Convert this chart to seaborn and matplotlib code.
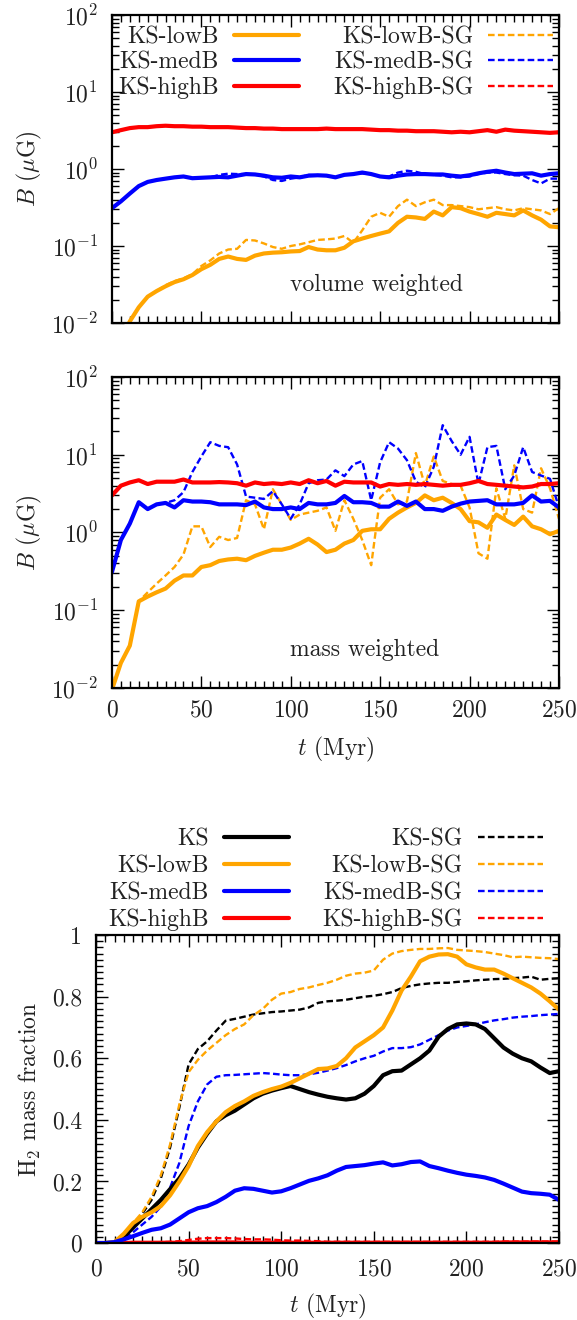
import numpy as np
import seaborn as sns
import matplotlib
matplotlib.use('Agg')
import matplotlib.pyplot as plt
from matplotlib.lines import Line2D
from matplotlib.ticker import LogLocator, NullFormatter, MultipleLocator, FixedLocator

# =========================
#  DATA (5 Myr steps)
# =========================

t_myr = np.arange(0, 251, 5)

# volume weighted B (muG)
vol_lowB = [0.004, 0.006, 0.0105, 0.016, 0.022, 0.026, 0.030, 0.034, 0.037, 0.042,
            0.050, 0.057, 0.068, 0.073, 0.068, 0.066, 0.075, 0.080, 0.082, 0.083,
            0.085, 0.086, 0.097, 0.090, 0.088, 0.088, 0.095, 0.115, 0.125, 0.135,
            0.145, 0.155, 0.200, 0.240, 0.235, 0.225, 0.280, 0.250, 0.320, 0.310,
            0.280, 0.260, 0.240, 0.270, 0.260, 0.250, 0.290, 0.250, 0.220, 0.180, 0.175]
vol_lowB_SG = [0.004, 0.006, 0.0105, 0.016, 0.022, 0.026, 0.031, 0.035, 0.038, 0.043,
               0.055, 0.065, 0.080, 0.090, 0.092, 0.120, 0.118, 0.108, 0.097, 0.092,
               0.100, 0.105, 0.112, 0.120, 0.122, 0.125, 0.135, 0.110, 0.160, 0.240,
               0.270, 0.240, 0.330, 0.400, 0.330, 0.370, 0.400, 0.340, 0.340, 0.330,
               0.320, 0.300, 0.310, 0.320, 0.300, 0.290, 0.310, 0.300, 0.290, 0.260, 0.310]
vol_medB = [0.31, 0.38, 0.48, 0.60, 0.68, 0.72, 0.75, 0.78, 0.80, 0.76,
            0.77, 0.78, 0.79, 0.78, 0.82, 0.86, 0.85, 0.82, 0.78, 0.77,
            0.80, 0.78, 0.82, 0.83, 0.82, 0.78, 0.84, 0.86, 0.90, 0.86,
            0.80, 0.78, 0.82, 0.85, 0.86, 0.86, 0.85, 0.85, 0.82, 0.80,
            0.83, 0.88, 0.92, 0.95, 0.90, 0.86, 0.87, 0.88, 0.82, 0.86, 0.88]
vol_medB_SG = [0.31, 0.38, 0.48, 0.60, 0.68, 0.72, 0.75, 0.78, 0.80, 0.76,
               0.77, 0.78, 0.84, 0.87, 0.86, 0.86, 0.85, 0.80, 0.72, 0.70,
               0.75, 0.78, 0.84, 0.83, 0.82, 0.78, 0.84, 0.86, 0.88, 0.86,
               0.80, 0.80, 0.90, 0.95, 0.92, 0.86, 0.84, 0.82, 0.78, 0.78,
               0.80, 0.86, 0.90, 0.90, 0.86, 0.83, 0.82, 0.72, 0.65, 0.75, 0.75]
vol_highB = [3.0, 3.2, 3.4, 3.5, 3.5, 3.6, 3.65, 3.6, 3.6, 3.55,
             3.55, 3.5, 3.5, 3.5, 3.45, 3.4, 3.4, 3.35, 3.35, 3.3,
             3.3, 3.3, 3.3, 3.3, 3.35, 3.3, 3.3, 3.3, 3.3, 3.25,
             3.2, 3.2, 3.15, 3.15, 3.1, 3.1, 3.1, 3.05, 3.0, 3.05,
             3.0, 3.1, 3.2, 3.05, 3.25, 3.15, 3.1, 3.05, 3.0, 2.95, 3.0]
vol_highB_SG = [3.0, 3.2, 3.4, 3.5, 3.5, 3.6, 3.65, 3.6, 3.6, 3.55,
                3.55, 3.5, 3.5, 3.5, 3.45, 3.4, 3.4, 3.35, 3.35, 3.3,
                3.3, 3.3, 3.3, 3.3, 3.35, 3.3, 3.3, 3.3, 3.3, 3.25,
                3.2, 3.2, 3.15, 3.15, 3.1, 3.1, 3.1, 3.05, 3.0, 3.05,
                3.0, 3.1, 3.2, 3.05, 3.25, 3.15, 3.1, 3.05, 3.0, 2.95, 3.05]

# mass weighted B (muG)
mass_lowB = [0.0095, 0.021, 0.035, 0.13, 0.15, 0.17, 0.19, 0.24, 0.28, 0.28,
             0.36, 0.38, 0.43, 0.45, 0.46, 0.44, 0.50, 0.55, 0.60, 0.60,
             0.64, 0.72, 0.83, 0.70, 0.56, 0.60, 0.72, 0.80, 1.05, 1.10,
             1.10, 1.50, 1.80, 2.10, 2.40, 3.00, 2.60, 2.80, 2.40, 2.00,
             1.40, 1.35, 1.15, 1.70, 1.45, 1.25, 1.60, 1.20, 1.10, 0.95, 1.05]
mass_lowB_SG = [0.0095, 0.021, 0.035, 0.13, 0.17, 0.22, 0.28, 0.36, 0.52, 1.2,
                1.2, 0.65, 0.88, 0.80, 0.85, 2.6, 2.3, 1.1, 3.6, 2.3,
                1.45, 1.7, 1.8, 1.9, 2.1, 1.05, 2.6, 1.5, 0.8, 0.38,
                2.8, 3.6, 2.3, 2.5, 10.5, 4.0, 9.5, 4.6, 4.2, 4.0,
                2.1, 0.54, 0.46, 3.7, 1.5, 7.3, 2.0, 1.8, 6.7, 3.7, 1.5]
mass_medB = [0.31, 0.8, 1.3, 2.45, 2.0, 2.3, 2.4, 2.1, 2.6, 2.5,
             2.5, 2.45, 2.3, 2.3, 2.3, 2.25, 2.5, 2.1, 2.0, 2.0,
             2.1, 2.0, 2.4, 2.3, 2.3, 2.4, 2.95, 2.45, 2.45, 2.4,
             2.15, 2.15, 2.5, 2.2, 2.5, 2.0, 2.0, 1.9, 2.15, 2.35,
             2.5, 2.55, 2.6, 2.3, 2.3, 2.3, 2.4, 3.0, 2.5, 2.55, 2.1]
mass_medB_SG = [0.31, 0.8, 1.3, 2.45, 2.0, 2.3, 2.4, 2.6, 3.3, 6.0,
                9.5, 14.5, 13.0, 12.5, 7.5, 2.9, 2.8, 2.7, 3.4, 2.3,
                1.5, 2.3, 4.3, 4.7, 4.8, 6.3, 5.3, 7.5, 8.3, 2.6,
                8.0, 14.5, 12.0, 8.5, 4.5, 3.8, 7.0, 24.0, 15.0, 10.0,
                17.0, 4.2, 12.5, 13.0, 3.6, 5.4, 12.5, 6.0, 5.4, 4.9, 2.1]
mass_highB = [3.0, 4.0, 4.4, 4.7, 4.2, 4.5, 4.5, 4.5, 4.8, 4.4,
              4.4, 4.4, 4.45, 4.4, 4.3, 4.0, 4.4, 4.2, 4.3, 4.2,
              4.4, 4.2, 4.7, 4.3, 4.6, 4.0, 4.5, 4.4, 4.4, 4.4,
              3.9, 4.2, 4.1, 4.2, 4.1, 4.2, 4.1, 4.0, 4.1, 4.1,
              4.3, 4.6, 4.2, 4.1, 4.0, 3.9, 3.8, 3.9, 4.2, 4.2, 4.3]
mass_highB_SG = [3.0, 4.0, 4.4, 4.7, 4.2, 4.5, 4.5, 4.5, 4.8, 4.4,
                 4.4, 4.4, 4.45, 4.4, 4.3, 4.0, 4.4, 4.2, 4.3, 4.2,
                 4.4, 4.2, 4.7, 4.3, 4.6, 4.0, 4.5, 4.4, 4.4, 4.4,
                 3.9, 4.2, 4.1, 4.2, 4.1, 4.2, 4.1, 4.0, 4.1, 4.1,
                 4.3, 4.6, 4.2, 4.1, 4.0, 3.9, 3.8, 3.9, 4.2, 4.2, 4.3]

# H2 mass fraction
h2_KS = [0, 0, 0.002, 0.02, 0.05, 0.08, 0.11, 0.14, 0.175, 0.21,
         0.255, 0.31, 0.355, 0.395, 0.415, 0.43, 0.45, 0.47, 0.485, 0.495,
         0.503, 0.51, 0.50, 0.49, 0.482, 0.475, 0.47, 0.466, 0.47, 0.485,
         0.51, 0.545, 0.558, 0.56, 0.58, 0.60, 0.625, 0.67, 0.695, 0.71,
         0.713, 0.71, 0.695, 0.665, 0.635, 0.615, 0.60, 0.59, 0.57, 0.552, 0.558]
h2_KS_SG = [0, 0, 0.003, 0.025, 0.06, 0.095, 0.14, 0.21, 0.31, 0.44,
            0.58, 0.63, 0.655, 0.69, 0.722, 0.728, 0.735, 0.742, 0.746, 0.75,
            0.752, 0.755, 0.758, 0.765, 0.78, 0.785, 0.787, 0.79, 0.795, 0.80,
            0.803, 0.808, 0.815, 0.828, 0.835, 0.84, 0.843, 0.845, 0.845, 0.848,
            0.85, 0.853, 0.855, 0.857, 0.858, 0.86, 0.862, 0.865, 0.855, 0.858, 0.86]
h2_lowB = [0, 0, 0.003, 0.03, 0.065, 0.085, 0.10, 0.12, 0.155, 0.20,
           0.25, 0.315, 0.36, 0.395, 0.425, 0.445, 0.46, 0.478, 0.49, 0.50,
           0.508, 0.52, 0.535, 0.55, 0.565, 0.567, 0.575, 0.60, 0.635, 0.655,
           0.675, 0.70, 0.755, 0.82, 0.865, 0.915, 0.93, 0.937, 0.938, 0.93,
           0.905, 0.895, 0.888, 0.888, 0.875, 0.86, 0.845, 0.83, 0.81, 0.785, 0.758]
h2_lowB_SG = [0, 0, 0.004, 0.03, 0.065, 0.10, 0.15, 0.22, 0.32, 0.45,
              0.555, 0.595, 0.625, 0.65, 0.675, 0.695, 0.71, 0.74, 0.76, 0.79,
              0.81, 0.815, 0.825, 0.83, 0.838, 0.845, 0.855, 0.868, 0.875, 0.878,
              0.885, 0.92, 0.94, 0.948, 0.952, 0.955, 0.955, 0.957, 0.958, 0.952,
              0.95, 0.948, 0.945, 0.94, 0.935, 0.928, 0.93, 0.928, 0.926, 0.925, 0.922]
h2_medB = [0, 0, 0.003, 0.012, 0.022, 0.033, 0.043, 0.048, 0.06, 0.08,
           0.10, 0.113, 0.12, 0.133, 0.15, 0.17, 0.178, 0.176, 0.17, 0.164,
           0.168, 0.178, 0.19, 0.202, 0.21, 0.22, 0.235, 0.247, 0.25, 0.253,
           0.258, 0.262, 0.252, 0.256, 0.263, 0.265, 0.25, 0.243, 0.235, 0.228,
           0.222, 0.218, 0.213, 0.205, 0.193, 0.18, 0.167, 0.162, 0.16, 0.157, 0.14]
h2_medB_SG = [0, 0, 0.003, 0.015, 0.035, 0.06, 0.085, 0.118, 0.18, 0.26,
              0.38, 0.46, 0.515, 0.54, 0.545, 0.546, 0.548, 0.55, 0.552, 0.55,
              0.547, 0.545, 0.545, 0.548, 0.553, 0.56, 0.568, 0.578, 0.59, 0.60,
              0.608, 0.622, 0.633, 0.633, 0.636, 0.645, 0.66, 0.675, 0.69, 0.70,
              0.705, 0.71, 0.717, 0.723, 0.727, 0.732, 0.735, 0.737, 0.74, 0.742, 0.744]
h2_highB = [0, 0, 0, 0, 0.001, 0.001, 0.001, 0.001, 0.001, 0.001,
            0.001, 0.002, 0.002, 0.002, 0.002, 0.002, 0.001, 0.001, 0.001, 0.001,
            0.001, 0.001, 0.001, 0.001, 0.001, 0.001, 0.001, 0.001, 0.001, 0.001,
            0.001, 0.001, 0.001, 0.001, 0.001, 0.001, 0.001, 0.001, 0.001, 0.001,
            0.001, 0.001, 0.001, 0.001, 0.002, 0.002, 0.002, 0.002, 0.002, 0.002, 0.002]
h2_highB_SG = [0, 0, 0, 0, 0.001, 0.001, 0.002, 0.003, 0.004, 0.006,
               0.01, 0.014, 0.016, 0.016, 0.016, 0.015, 0.013, 0.012, 0.012, 0.011,
               0.009, 0.008, 0.008, 0.007, 0.006, 0.004, 0.004, 0.004, 0.004, 0.004,
               0.004, 0.004, 0.004, 0.004, 0.004, 0.004, 0.004, 0.004, 0.004, 0.004,
               0.004, 0.004, 0.004, 0.004, 0.005, 0.005, 0.005, 0.005, 0.005, 0.005, 0.005]

COLORS = {'KS': 'black', 'lowB': '#FFA500', 'medB': '#0000FF', 'highB': '#FF0000'}
SOLID_LW = 3.0
DASH_LW = 1.7
DASH = (0, (2.8, 1.4))
FS = 17

# =========================
#  STYLE
# =========================

sns.set_theme(style='ticks')
plt.rcParams['font.family'] = ['cmr10', 'DejaVu Serif']
plt.rcParams['mathtext.fontset'] = 'cm'
plt.rcParams['axes.formatter.use_mathtext'] = True
plt.rcParams['axes.unicode_minus'] = True
plt.rcParams['text.color'] = '#222222'
plt.rcParams['axes.labelcolor'] = '#222222'
plt.rcParams['xtick.color'] = 'black'
plt.rcParams['ytick.color'] = 'black'
plt.rcParams['xtick.labelcolor'] = '#222222'
plt.rcParams['ytick.labelcolor'] = '#222222'


def style_axes(ax):
    for sp in ax.spines.values():
        sp.set_linewidth(1.6)
        sp.set_color('black')
    ax.tick_params(which='both', direction='in', top=True, right=True,
                   width=1.0, labelsize=FS)
    ax.tick_params(which='major', length=8.5)
    ax.tick_params(which='minor', length=5)
    ax.tick_params(axis='x', which='both', pad=8)
    ax.tick_params(axis='y', which='both', pad=10)
    ax.set_xlim(0, 250)
    ax.xaxis.set_major_locator(MultipleLocator(50))
    ax.xaxis.set_minor_locator(MultipleLocator(5))


def style_log(ax):
    ax.set_yscale('log')
    ax.set_ylim(1e-2, 1e2)
    ax.yaxis.set_major_locator(LogLocator(base=10, numticks=10))
    ax.yaxis.set_minor_locator(LogLocator(base=10, subs=np.arange(2, 10), numticks=100))
    ax.yaxis.set_minor_formatter(NullFormatter())


def draw(ax, y, key, dashed):
    if dashed:
        sns.lineplot(x=t_myr, y=y, ax=ax, color=COLORS[key], lw=DASH_LW,
                     ls=DASH, legend=False)
    else:
        sns.lineplot(x=t_myr, y=y, ax=ax, color=COLORS[key], lw=SOLID_LW,
                     legend=False)


def handle(key, dashed):
    if dashed:
        return Line2D([], [], color=COLORS[key], lw=DASH_LW, ls=DASH)
    return Line2D([], [], color=COLORS[key], lw=SOLID_LW)


LEG_KW = dict(ncol=2, markerfirst=False, frameon=False, loc='upper right',
              borderpad=0, borderaxespad=0, handlelength=2.75,
              handletextpad=0.64, columnspacing=1.44, fontsize=FS)

fig = plt.figure(figsize=(5.77, 13.2), dpi=100)
ax1 = fig.add_axes([0.194, 0.7553, 0.7747, 0.2333])
ax2 = fig.add_axes([0.194, 0.4788, 0.7747, 0.2356])
ax3 = fig.add_axes([0.1664, 0.0583, 0.8024, 0.2333])

# =========================
#  VOLUME WEIGHTED
# =========================

for y, key in [(vol_lowB_SG, 'lowB'), (vol_medB_SG, 'medB'), (vol_highB_SG, 'highB')]:
    draw(ax1, y, key, True)
for y, key in [(vol_lowB, 'lowB'), (vol_medB, 'medB'), (vol_highB, 'highB')]:
    draw(ax1, y, key, False)
style_axes(ax1)
style_log(ax1)
ax1.tick_params(axis='x', labelbottom=False)
ax1.set_xlabel('')
ax1.set_ylabel(r'$B$ ($\mu$G)', fontsize=FS)
ax1.yaxis.set_label_coords(-0.152, 0.5)
ax1.text(0.398, 0.123, 'volume weighted', transform=ax1.transAxes,
         ha='left', va='center', fontsize=FS)

labels1 = ['KS-lowB', 'KS-medB', 'KS-highB', 'KS-lowB-SG', 'KS-medB-SG', 'KS-highB-SG']
handles1 = [handle('lowB', False), handle('medB', False), handle('highB', False),
            handle('lowB', True), handle('medB', True), handle('highB', True)]
ax1.legend(handles1, labels1, bbox_to_anchor=(0.987, 0.963), labelspacing=0.12, **LEG_KW)

# =========================
#  MASS WEIGHTED
# =========================

for y, key in [(mass_lowB_SG, 'lowB'), (mass_medB_SG, 'medB'), (mass_highB_SG, 'highB')]:
    draw(ax2, y, key, True)
for y, key in [(mass_lowB, 'lowB'), (mass_medB, 'medB'), (mass_highB, 'highB')]:
    draw(ax2, y, key, False)
style_axes(ax2)
style_log(ax2)
ax2.set_ylabel(r'$B$ ($\mu$G)', fontsize=FS)
ax2.yaxis.set_label_coords(-0.152, 0.5)
ax2.set_xlabel(r'$t$ (Myr)', fontsize=FS)
ax2.xaxis.set_label_coords(0.5, -0.151)
ax2.text(0.398, 0.122, 'mass weighted', transform=ax2.transAxes,
         ha='left', va='center', fontsize=FS)

# =========================
#  H2 MASS FRACTION
# =========================

for y, key in [(h2_KS_SG, 'KS'), (h2_lowB_SG, 'lowB'), (h2_medB_SG, 'medB'), (h2_highB_SG, 'highB')]:
    draw(ax3, y, key, True)
for y, key in [(h2_highB, 'highB'), (h2_KS, 'KS'), (h2_lowB, 'lowB'), (h2_medB, 'medB')]:
    draw(ax3, y, key, False)
style_axes(ax3)
ax3.set_ylim(0, 1)
ax3.yaxis.set_major_locator(FixedLocator([0, 0.2, 0.4, 0.6, 0.8, 1.0]))
ax3.set_yticklabels(['0', '0.2', '0.4', '0.6', '0.8', '1'])
ax3.yaxis.set_minor_locator(MultipleLocator(0.02))
ax3.tick_params(axis='x', which='both', pad=11)
ax3.set_ylabel(r'H$_2$ mass fraction', fontsize=FS)
ax3.yaxis.set_label_coords(-0.114, 0.5)
ax3.set_xlabel(r'$t$ (Myr)', fontsize=FS)
ax3.xaxis.set_label_coords(0.5, -0.158)

labels3 = ['KS', 'KS-lowB', 'KS-medB', 'KS-highB',
           'KS-SG', 'KS-lowB-SG', 'KS-medB-SG', 'KS-highB-SG']
handles3 = [handle('KS', False), handle('lowB', False), handle('medB', False), handle('highB', False),
            handle('KS', True), handle('lowB', True), handle('medB', True), handle('highB', True)]
ax3.legend(handles3, labels3, bbox_to_anchor=(0.965, 1.347), labelspacing=0.2, **LEG_KW)

fig.savefig('out.png', dpi=100)
plt.close(fig)
